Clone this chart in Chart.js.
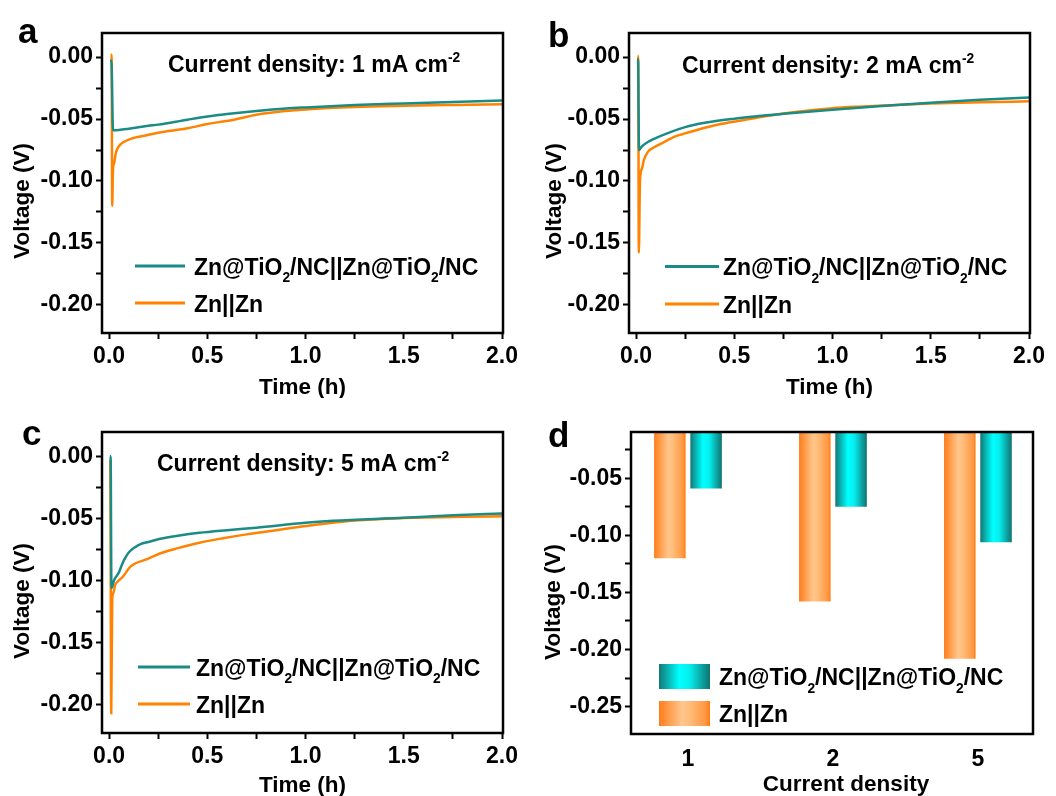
<!DOCTYPE html>
<html lang="en">
<head>
<meta charset="UTF-8" />
<title>Zn symmetric cells - voltage profiles</title>
<script src="https://cdn.jsdelivr.net/npm/chart.js"></script>
<style>
  body { margin: 0; background: #fff; }
  #figure { position: relative; width: 1056px; height: 796px; }
  .panel { position: absolute; width: 528px; height: 398px; }
</style>
</head>
<body>
<div id="figure">
  <div class="panel" style="left:0;top:0"><canvas id="panelA"></canvas></div>
  <div class="panel" style="left:528px;top:0"><canvas id="panelB"></canvas></div>
  <div class="panel" style="left:0;top:398px"><canvas id="panelC"></canvas></div>
  <div class="panel" style="left:528px;top:398px"><canvas id="panelD"></canvas></div>
</div>

<script>
// current densities (mA cm-2) and the two cells
const densities = ['1', '2', '5'];
const cellNames = ['Zn@TiO2/NC||Zn@TiO2/NC', 'Zn||Zn'];

// 1 mA cm-2, time (h) / voltage (V)
const time1Coated = [0.005, 0.012, 0.02, 0.05, 0.1, 0.2, 0.25, 0.4, 0.5, 0.6, 0.75, 0.9, 1.0, 1.25, 1.5, 1.75, 2.0];
const volt1Coated = [-0.003, -0.003, -0.059, -0.0588, -0.0578, -0.0555, -0.0545, -0.0505, -0.048, -0.046, -0.0435, -0.0415, -0.0406, -0.0387, -0.0374, -0.0362, -0.0350];
const time1Bare = [0.008, 0.013, 0.016, 0.02, 0.025, 0.035, 0.05, 0.07, 0.12, 0.18, 0.25, 0.4, 0.5, 0.62, 0.75, 0.9, 1.0, 1.25, 1.5, 1.75, 2.0];
const volt1Bare = [0.002, 0.002, -0.120, -0.090, -0.086, -0.077, -0.072, -0.069, -0.0655, -0.0635, -0.061, -0.0575, -0.054, -0.051, -0.0465, -0.0435, -0.0422, -0.0403, -0.0393, -0.0386, -0.0380];

// 2 mA cm-2
const time2Coated = [0.005, 0.01, 0.015, 0.03, 0.06, 0.12, 0.25, 0.35, 0.5, 0.65, 0.75, 1.0, 1.25, 1.5, 1.75, 2.0];
const volt2Coated = [-0.002, -0.002, -0.075, -0.072, -0.0685, -0.064, -0.0565, -0.053, -0.0497, -0.0472, -0.0458, -0.0425, -0.0395, -0.0368, -0.0345, -0.0325];
const time2Bare = [0.008, 0.011, 0.014, 0.02, 0.03, 0.04, 0.06, 0.09, 0.13, 0.2, 0.25, 0.35, 0.43, 0.52, 0.62, 0.75, 0.88, 1.0, 1.13, 1.3, 1.5, 1.75, 2.0];
const volt2Bare = [0.001, 0.001, -0.158, -0.100, -0.090, -0.083, -0.0765, -0.073, -0.0696, -0.064, -0.0616, -0.057, -0.054, -0.0515, -0.0487, -0.0455, -0.043, -0.0412, -0.040, -0.0388, -0.0375, -0.0365, -0.0357];

// 5 mA cm-2
const time5Coated = [0.004, 0.008, 0.012, 0.025, 0.05, 0.065, 0.08, 0.1, 0.13, 0.16, 0.2, 0.26, 0.35, 0.46, 0.6, 0.75, 1.0, 1.14, 1.5, 1.75, 2.0];
const volt5Coated = [0.0, 0.0, -0.106, -0.100, -0.0935, -0.0875, -0.0825, -0.0775, -0.0735, -0.0708, -0.069, -0.0665, -0.064, -0.0616, -0.0595, -0.0575, -0.0535, -0.052, -0.0495, -0.0475, -0.0462];
const time5Bare = [0.0, 0.006, 0.011, 0.016, 0.022, 0.03, 0.05, 0.07, 0.11, 0.19, 0.27, 0.35, 0.46, 0.58, 0.7, 0.85, 1.0, 1.24, 1.57, 1.8, 2.0];
const volt5Bare = [-0.004, -0.004, -0.207, -0.115, -0.110, -0.104, -0.100, -0.097, -0.0887, -0.083, -0.0777, -0.074, -0.0696, -0.066, -0.0629, -0.0595, -0.0562, -0.052, -0.0495, -0.0488, -0.0484];

// deepest voltage reached at each current density
const peakCoated = [-0.059, -0.075, -0.106];
const peakBare = [-0.120, -0.158, -0.208];

const TEAL = '#1a8c85';
const ORANGE = '#ff8200';
const TEAL_SHADE = [[0, '#127877'], [0.4, '#00ffff'], [0.6, '#05eeee'], [1, '#107371']];
const ORANGE_SHADE = [[0, '#ff7d1a'], [0.45, '#ffc68c'], [0.6, '#ffbd7a'], [0.92, '#ff9640'], [1, '#ff7a10']];
const FAMILY = '"Liberation Sans", Arial, sans-serif';
const BAR_TOP = -0.0095;

Chart.defaults.font.family = FAMILY;
Chart.defaults.font.size = 23;
Chart.defaults.font.weight = 'bold';
Chart.defaults.color = '#000';

const fontOf = px => `bold ${px}px ${FAMILY}`;
const track = (t, v) => t.map((x, i) => ({ x, y: v[i] }));
const onStep = (v, step) => Math.abs(v / step - Math.round(v / step)) < 1e-6;
const subRuns = name => name.split(/(\d)/).map((t, k) => [t, k % 2 ? 'sub' : '']);

function drawRuns(ctx, runs, x, y, size) {
  runs.forEach(([text, kind]) => {
    const small = kind === 'sup' || kind === 'sub';
    ctx.font = fontOf(small ? size * 0.6 : size);
    const dy = kind === 'sup' ? -size * 0.43 : kind === 'sub' ? size * 0.33 : 0;
    ctx.fillText(text, x, y + dy);
    x += ctx.measureText(text).width;
  });
}

function shadeFill(ctx, stops, x0, x1) {
  const g = ctx.createLinearGradient(x0, 0, x1, 0);
  stops.forEach(([p, c]) => g.addColorStop(p, c));
  return g;
}

// fixes an axis box to an exact size so the plot frames line up
function pinSize(scale, w, h) {
  if (w) scale.width = w;
  if (h) scale.height = h;
  scale.paddingLeft = scale.paddingRight = scale.paddingTop = scale.paddingBottom = 0;
}

// horizontal light/dark shading across each bar
const barShade = {
  id: 'barShade',
  beforeDatasetsDraw(chart) {
    const ctx = chart.ctx;
    chart.data.datasets.forEach((ds, i) => {
      if (!ds.shade) return;
      chart.getDatasetMeta(i).data.forEach(bar => {
        const x0 = bar.x - bar.width / 2;
        const fill = shadeFill(ctx, ds.shade, x0, x0 + bar.width);
        bar.options = Object.assign({}, bar.options, { backgroundColor: fill });
      });
    });
  }
};

// frame, panel letter, heading, axis titles and legend
const decor = {
  id: 'decor',
  afterDraw(chart, args, o) {
    const { ctx, chartArea: a } = chart;
    ctx.save();
    ctx.strokeStyle = '#000';
    ctx.lineWidth = 2.5;
    ctx.strokeRect(a.left, a.top, a.right - a.left, a.bottom - a.top);

    ctx.fillStyle = '#000';
    ctx.textAlign = 'left';
    ctx.textBaseline = 'alphabetic';
    ctx.font = fontOf(35);
    ctx.fillText(o.letter, o.letterAt[0], o.letterAt[1]);
    if (o.heading) drawRuns(ctx, o.heading, o.headAt[0], o.headAt[1], 23);

    ctx.font = fontOf(22.5);
    if (o.xTitle) {
      ctx.textAlign = 'center';
      ctx.fillText(o.xTitle, o.xTitleAt[0], o.xTitleAt[1]);
    }
    ctx.save();
    ctx.translate(o.yTitleAt[0], o.yTitleAt[1]);
    ctx.rotate(-Math.PI / 2);
    ctx.textAlign = 'center';
    ctx.textBaseline = 'middle';
    ctx.fillText(o.yTitle, 0, 0);
    ctx.restore();

    const lg = o.legend;
    ctx.textAlign = 'left';
    lg.order.forEach((idx, r) => {
      const ds = chart.data.datasets[idx];
      const y = lg.rows[r];
      if (lg.swatch === 'line') {
        ctx.strokeStyle = ds.borderColor;
        ctx.lineWidth = 3;
        ctx.beginPath();
        ctx.moveTo(lg.x, y);
        ctx.lineTo(lg.x + lg.w, y);
        ctx.stroke();
      } else {
        ctx.fillStyle = shadeFill(ctx, ds.shade, lg.x, lg.x + lg.w);
        ctx.fillRect(lg.x, y - lg.h / 2, lg.w, lg.h);
      }
      ctx.fillStyle = '#000';
      drawRuns(ctx, subRuns(ds.label), lg.textX, y + 8.5, 23);
    });
    ctx.restore();
  }
};

Chart.register(decor, barShade);

function voltAxis(min, max, width) {
  return {
    min, max,
    ticks: { stepSize: 0.025, includeBounds: false, padding: 3, autoSkip: false,
             callback: v => onStep(v, 0.05) ? v.toFixed(2) : '' },
    grid: { drawOnChartArea: false, color: '#000', tickLength: 6, tickWidth: 2 },
    border: { display: false },
    afterFit: s => pinSize(s, width, null)
  };
}

function profileChart(id, k, coated, bare, box, deco) {
  return new Chart(document.getElementById(id), {
    type: 'line',
    data: {
      datasets: [
        { label: cellNames[0], data: coated, borderColor: TEAL },
        { label: cellNames[1], data: bare, borderColor: ORANGE }
      ]
    },
    options: {
      responsive: true,
      maintainAspectRatio: false,
      animation: false,
      layout: { padding: { top: box.top, right: box.right, left: 0, bottom: 0 } },
      elements: {
        point: { radius: 0 },
        line: { borderWidth: 2.5, cubicInterpolationMode: 'monotone', fill: false }
      },
      plugins: {
        legend: { display: false },
        tooltip: { enabled: false },
        decor: {
          letter: deco.letter,
          letterAt: deco.letterAt,
          heading: [[`Current density: ${densities[k]} mA cm`, ''], ['-2', 'sup']],
          headAt: deco.headAt,
          yTitle: 'Voltage (V)',
          yTitleAt: deco.yTitleAt,
          legend: Object.assign({ order: [0, 1], swatch: 'line' }, deco.legend)
        }
      },
      scales: {
        x: {
          type: 'linear', min: -0.036, max: 2.005,
          ticks: { stepSize: 0.25, includeBounds: false, padding: 4, maxRotation: 0, autoSkip: false,
                   callback: v => onStep(v, 0.5) ? v.toFixed(1) : '' },
          grid: { drawOnChartArea: false, color: '#000', tickLength: 6, tickWidth: 2 },
          border: { display: false },
          title: { display: true, text: 'Time (h)', padding: { top: 0, bottom: -3 }, font: { size: 22.5 } },
          afterFit: s => pinSize(s, null, box.xh)
        },
        y: voltAxis(-0.2228, 0.0195, box.yw)
      }
    }
  });
}

profileChart('panelA', 0, track(time1Coated, volt1Coated), track(time1Bare, volt1Bare),
  { top: 33, right: 25, yw: 102, xh: 65 },
  { letter: 'a', letterAt: [18, 43], headAt: [168, 72], yTitleAt: [22.5, 201],
    legend: { x: 135, w: 50, rows: [266, 303], textX: 194 } });

profileChart('panelB', 1, track(time2Coated, volt2Coated), track(time2Bare, volt2Bare),
  { top: 33, right: 26, yw: 101, xh: 65 },
  { letter: 'b', letterAt: [20, 47], headAt: [154, 72.5], yTitleAt: [27, 201],
    legend: { x: 137, w: 54, rows: [266.5, 304], textX: 195 } });

profileChart('panelC', 2, track(time5Coated, volt5Coated), track(time5Bare, volt5Bare),
  { top: 34, right: 25, yw: 102, xh: 63 },
  { letter: 'c', letterAt: [22, 47], headAt: [157, 72.7], yTitleAt: [23, 203],
    legend: { x: 138, w: 52, rows: [269, 306], textX: 196 } });

// summary bars: bars hang from the top of the voltage axis
new Chart(document.getElementById('panelD'), {
  type: 'bar',
  data: {
    datasets: [
      { label: cellNames[1], data: peakBare.map((v, i) => ({ x: i + 1, y: v })), shade: ORANGE_SHADE },
      { label: cellNames[0], data: peakCoated.map((v, i) => ({ x: i + 1, y: v })), shade: TEAL_SHADE }
    ]
  },
  options: {
    responsive: true,
    maintainAspectRatio: false,
    animation: false,
    layout: { padding: { top: 34, right: 23, left: 0, bottom: 0 } },
    datasets: { bar: { base: BAR_TOP, categoryPercentage: 0.5, barPercentage: 0.87, borderWidth: 0 } },
    plugins: {
      legend: { display: false },
      tooltip: { enabled: false },
      decor: {
        letter: 'd', letterAt: [20, 49],
        yTitle: 'Voltage (V)', yTitleAt: [25.5, 204],
        xTitle: 'Current density', xTitleAt: [318, 393],
        legend: { order: [1, 0], swatch: 'box', x: 131, w: 51, h: 25, rows: [278.5, 315.5], textX: 191 }
      }
    },
    scales: {
      x: {
        type: 'linear', min: 0.607, max: 3.38, offset: false,
        afterBuildTicks: s => { s.ticks = densities.map((d, i) => ({ value: i + 1 })); },
        ticks: { padding: 12, maxRotation: 0, autoSkip: false, callback: v => densities[v - 1] },
        grid: { display: false, drawTicks: false, offset: false },
        border: { display: false },
        afterFit: s => pinSize(s, null, 62)
      },
      y: voltAxis(-0.274, BAR_TOP, 103)
    }
  }
});
</script>
</body>
</html>
